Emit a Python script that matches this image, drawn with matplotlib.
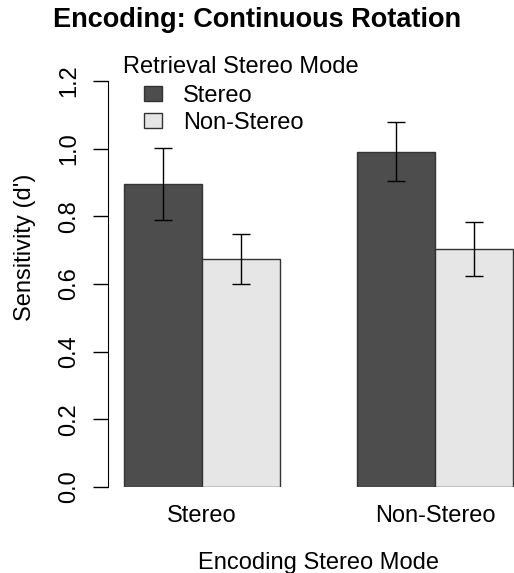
import matplotlib
matplotlib.use('Agg')
import matplotlib.pyplot as plt
import numpy as np

plt.rcParams['font.family'] = ['Liberation Sans', 'DejaVu Sans']

# data
grupos = ['Stereo', 'Non-Stereo']
series = ['Stereo', 'Non-Stereo']
media_stereo = [0.895, 0.991]
media_nonstereo = [0.674, 0.703]
se_stereo = [0.107, 0.088]
se_nonstereo = [0.073, 0.081]
colores = ['#4d4d4d', '#e6e6e6']
yticks = [0.0, 0.2, 0.4, 0.6, 0.8, 1.0, 1.2]

fig = plt.figure(figsize=(5.14, 5.73), dpi=100)
ax = fig.add_axes([108 / 514, 86 / 573, 421 / 514, 442 / 573])

# posiciones estilo barplot de R (beside=TRUE)
x_st = np.array([1.5, 4.5])
x_ns = x_st + 1

ax.bar(x_st, media_stereo, width=1, color=colores[0], edgecolor='#333333', linewidth=1, label=series[0])
ax.bar(x_ns, media_nonstereo, width=1, color=colores[1], edgecolor='#333333', linewidth=1, label=series[1])
ax.errorbar(x_st, media_stereo, yerr=se_stereo, fmt='none', ecolor='black', elinewidth=1, capsize=6.5, capthick=1)
ax.errorbar(x_ns, media_nonstereo, yerr=se_nonstereo, fmt='none', ecolor='black', elinewidth=1, capsize=6.5, capthick=1)

ax.set_xlim(0.8, 6.2)
ax.set_ylim(0, 1.306)

for s in ['top', 'right', 'bottom']:
    ax.spines[s].set_visible(False)
ax.spines['left'].set_bounds(0, 1.2)

ax.set_yticks(yticks)
ax.set_yticklabels(['%.1f' % v for v in yticks], rotation=90, va='center', fontsize=17)
ax.tick_params(axis='y', length=10.8, width=1, pad=9)
ax.set_xticks((x_st + x_ns) / 2)
ax.set_xticklabels(grupos, fontsize=17)
ax.tick_params(axis='x', length=0, pad=13)

ax.set_ylabel("Sensitivity (d')", fontsize=17)
ax.yaxis.set_label_coords(-0.172, 0.543)
ax.set_xlabel('Encoding Stereo Mode', fontsize=17, labelpad=18)
fig.text(0.5, 1 - 20 / 573, 'Encoding: Continuous Rotation', fontsize=19.5, fontweight='bold',
         ha='center', va='center')

# leyenda
ax.text(0.036, 0.951, 'Retrieval Stereo Mode', transform=ax.transAxes, fontsize=17, ha='left', va='center')
leg = ax.legend(loc='upper left', bbox_to_anchor=(0.0855, 0.91), frameon=False, fontsize=17,
                borderpad=0, borderaxespad=0, handlelength=0.76, handleheight=0.6,
                handletextpad=0.9, labelspacing=0.2)

fig.savefig('out.png', dpi=100)
